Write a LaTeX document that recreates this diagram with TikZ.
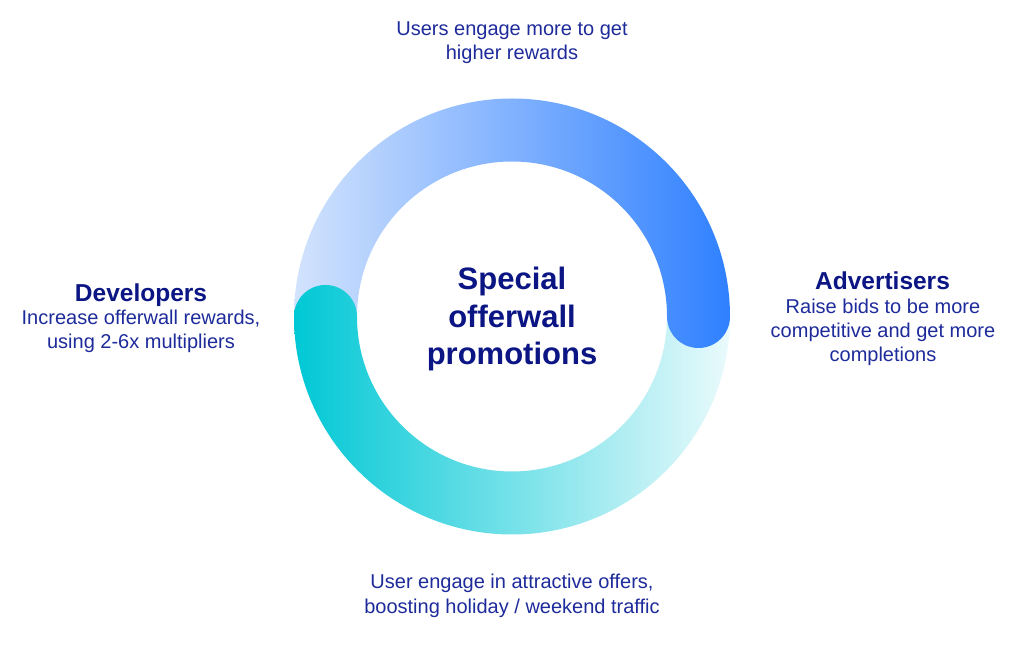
\documentclass[tikz,border=0pt]{standalone}
\usepackage{fontspec}
\setmainfont{Liberation Sans}
\definecolor{blueL}{HTML}{D2E3FD}
\definecolor{blueM}{HTML}{8AB7FE}
\definecolor{blueR}{HTML}{2F80FF}
\definecolor{tealL}{HTML}{00C8D5}
\definecolor{tealM}{HTML}{40D8E0}
\definecolor{tealR}{HTML}{EAFAFC}
\definecolor{headc}{HTML}{0B1584}
\definecolor{bodyc}{HTML}{1E2B9B}
\tikzset{
  bodytext/.style={text=bodyc, align=center, inner sep=0pt, anchor=base,
    font=\fontsize{20}{24.3}\selectfont},
  headtext/.style={text=headc, inner sep=0pt, anchor=base,
    font=\fontsize{24.5}{28}\selectfont\bfseries},
  titletext/.style={text=headc, align=center, inner sep=0pt, anchor=base,
    font=\fontsize{31}{37.5}\selectfont\bfseries},
}
\begin{document}
\begin{tikzpicture}[x=1pt,y=1pt]
\useasboundingbox (0,0) rectangle (1024,658);
\fill[white] (0,0) rectangle (1024,658);
\begin{scope}[shift={(512,341.5)}]
  % teal lower ring with round cap on the left
  \def\tealpath{(-155,0) arc[start angle=0, end angle=180, radius=31.5]
     arc[start angle=180, end angle=360, radius=218] -- (155,0)
     arc[start angle=0, end angle=-180, radius=155] -- cycle}
  \shade[left color=tealL, middle color=tealM, right color=tealR] \tealpath;
  % blue upper ring with round cap on the right
  \shade[left color=blueL, middle color=blueM, right color=blueR]
     (-218,0) arc[start angle=180, end angle=0, radius=218]
     arc[start angle=0, end angle=-180, radius=31.5]
     arc[start angle=0, end angle=180, radius=155] -- cycle;
  % teal cap on top at the left
  \begin{scope}
    \clip (-240,0) rectangle (0,40);
    \shade[left color=tealL, middle color=tealM, right color=tealR] \tealpath;
  \end{scope}
\end{scope}
% centre title (anchor base = last line baseline)
\node[titletext] (title) at (512,293) {Special\\offerwall\\promotions};
% top
\node[bodytext] (users) at (512,598) {Users engage more to get\\higher rewards};
% left
\node[headtext] (dev) at (141,356) {Developers};
\node[bodytext] (devtxt) at (141,309) {Increase offerwall rewards,\\using 2-6x multipliers};
% right
\node[headtext] (adv) at (882.5,368) {Advertisers};
\node[bodytext] (advtxt) at (883,296.3) {Raise bids to be more\\competitive and get more\\completions};
% bottom
\node[bodytext] (bottom) at (512,44.7) {User engage in attractive offers,\\boosting holiday / weekend traffic};
\end{tikzpicture}
\end{document}
